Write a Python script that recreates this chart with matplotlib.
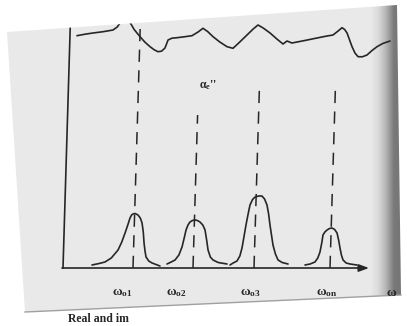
import numpy as np
import matplotlib
matplotlib.use("Agg")
import matplotlib.pyplot as plt
from matplotlib.transforms import Affine2D
from matplotlib.patches import Polygon

# ---------------- data (arbitrary units) ----------------
# real part (upper wavy curve): frequency, amplitude
top_w = [7.0, 15.0, 23.0, 33.0, 42.9, 47.0, 49.7, 53.4, 56.4, 59.6, 64.0, 70.1, 75.0,
         80.4, 84.5, 88.5, 92.0, 95.4, 98.2, 102.0, 107.1, 115.0, 122.0, 128.0, 132.8,
         137.5, 143.1, 150.0, 157.4, 163.4, 170.0, 177.0, 183.0, 187.7, 193.0, 200.0,
         207.0, 213.3, 217.2, 222.2, 235.0, 247.1, 256.0, 263.0, 268.0, 271.8, 274.5,
         277.0, 282.4, 285.5, 288.7, 293.0, 297.6, 302.5, 307.4, 313.0, 320.2]
top_a = [232.3, 233.8, 235.0, 236.3, 238.0, 241.0, 245.0, 252.0, 253.0, 245.7, 238.5,
         231.3, 226.0, 221.3, 218.3, 216.3, 216.8, 220.0, 228.0, 229.8, 230.3, 231.3,
         232.3, 236.0, 239.7, 236.5, 231.3, 226.0, 221.3, 219.7, 226.0, 233.0, 239.0,
         243.0, 240.0, 235.0, 229.0, 224.0, 227.0, 225.0, 227.5, 230.0, 231.8, 233.0,
         237.0, 240.3, 238.5, 235.0, 221.3, 215.0, 211.3, 211.2, 213.0, 217.5, 221.3,
         224.5, 227.0]

# imaginary part: four absorption peaks
peak1_w = [28.9, 36.0, 41.8, 48.0, 54.5, 58.0, 61.0, 63.5, 65.5, 67.0, 68.4, 70.5,
           73.4, 75.8, 77.7, 79.2, 80.3, 81.5, 82.7, 85.5, 88.9, 96.9]
peak1_a = [3, 4.5, 6, 10, 18, 26, 35, 43, 50, 53, 54, 54.5, 53, 50, 45, 36, 25, 17,
           11, 7, 5, 2]
peak2_w = [103.9, 108.0, 111.8, 115.5, 118.4, 120.3, 121.9, 123.7, 125.6, 128.0, 130.6,
           133.0, 135.6, 138.5, 140.9, 142.8, 144.5, 147.0, 149.8, 155.0, 163.9]
peak2_a = [4, 6, 8, 13, 21, 30, 38, 43, 46, 47.5, 48, 47.5, 46, 43, 38, 28, 18, 11, 8,
           5.5, 4]
peak3_w = [166.9, 170.0, 173.8, 176.5, 178.4, 180.0, 181.7, 183.5, 185.1, 187.5, 189.9,
           193.5, 196.8, 199.5, 202.1, 204.0, 205.7, 207.5, 209.3, 212.0, 214.8, 219.0,
           224.9]
peak3_a = [3, 5, 7, 12, 20, 31, 43, 54, 63, 68.5, 71, 72, 72, 69, 63, 54, 43, 33, 23,
           14, 8, 5.5, 4]
peak4_w = [241.9, 247.0, 251.8, 254.5, 256.5, 258.0, 259.0, 260.8, 262.9, 265.3, 267.8,
           270.5, 273.0, 275.0, 276.4, 278.0, 279.8, 283.0, 286.9, 293.9]
peak4_a = [3, 4, 6, 10, 16, 25, 33, 36, 38, 39.5, 40, 38.5, 35, 27, 20, 13, 8, 5, 4, 3]

# resonance frequencies and the heights of the dashed markers
res_w = [70, 130, 191, 267]
res_top = [252, 153, 181, 178]

# axis labels
tick_labels = ["ω$_\\mathrm{o1}$", "ω$_\\mathrm{o2}$", "ω$_\\mathrm{o3}$",
               "ω$_\\mathrm{on}$", "ω"]
tick_w = [60, 114, 188, 264.5, 329.5]
curve_label = "α$_\\mathrm{e}$''"
caption = "Real and im"

# ---------------- styling ----------------
plt.rcParams['mathtext.fontset'] = 'custom'
plt.rcParams['mathtext.rm'] = 'Liberation Serif:bold'
plt.rcParams['mathtext.it'] = 'Liberation Serif:bold:italic'
plt.rcParams['mathtext.bf'] = 'Liberation Serif:bold'

ink = '#262626'
page_col = '#e9e9e9'

fig = plt.figure(figsize=(4.07, 3.26), dpi=100, facecolor='white')
ax = fig.add_axes([0, 0, 1, 1])
ax.set_facecolor('white')
ax.axis('off')

# scanned page
page = Polygon([(-56, 236), (334, 263), (338, -27), (-38, -44)], closed=True,
               facecolor=page_col, edgecolor='none', zorder=0)
ax.add_patch(page)

# right-hand binding shadow
xs = np.linspace(370, 401, 64)
alpha = np.interp(xs, [370, 378, 385, 390, 394, 401], [0, 0.06, 0.2, 0.35, 0.48, 0.5])
grad = np.zeros((1, len(xs), 4))
grad[0, :, 3] = alpha
im = ax.imshow(grad, extent=(370 - 63, 401 - 63, -58, 268), aspect='auto',
               interpolation='bilinear', zorder=1)
im.set_clip_path(page)

# bottom page edge
ax.plot([-38, 338], [-44, -27], color='#a0a0a0', lw=1.0, zorder=1)

# slight skew of the scan
skew = Affine2D().skew(np.arctan(0.03), 0) + ax.transData

arts = []
arts += ax.plot(top_w, top_a, color=ink, lw=1.2, transform=skew, zorder=3,
                solid_joinstyle='round', solid_capstyle='round')
for pw, pa in [(peak1_w, peak1_a), (peak2_w, peak2_a), (peak3_w, peak3_a), (peak4_w, peak4_a)]:
    arts += ax.plot(pw, pa, color=ink, lw=1.2, transform=skew, zorder=3,
                    solid_joinstyle='round', solid_capstyle='round')
for w, t in zip(res_w, res_top):
    arts += ax.plot([w, w], [0, t], color=ink, lw=1.1, ls=(0, (8, 5.5)),
                    transform=skew, zorder=3)
# axes
arts += ax.plot([0, 0], [0, 255], color=ink, lw=1.2, transform=skew, zorder=3)
ax.annotate('', xy=(306, 0), xytext=(-1, 0),
            arrowprops=dict(arrowstyle='-|>,head_length=0.6,head_width=0.22',
                            color=ink, lw=1.2, mutation_scale=10, shrinkA=0, shrinkB=0),
            zorder=3)
for a in arts:
    a.set_clip_path(page)

for w, lab in zip(tick_w, tick_labels):
    ax.text(w, -25, lab, transform=skew, ha='center', va='center', fontsize=9.5,
            family='Liberation Serif', weight='bold', color=ink, zorder=4)
ax.text(139.5, 183, curve_label, transform=skew, ha='center', va='center', fontsize=8.5,
        family='Liberation Serif', weight='bold', color=ink, zorder=4)

fig.text(68 / 407, 1 - 322 / 326, caption, family='Liberation Serif', weight='bold',
         fontsize=8.5, color=ink, va='baseline', ha='left')

ax.set_xlim(-63, 344)
ax.set_ylim(-58, 268)

fig.savefig('out.png', dpi=100, facecolor='white')
